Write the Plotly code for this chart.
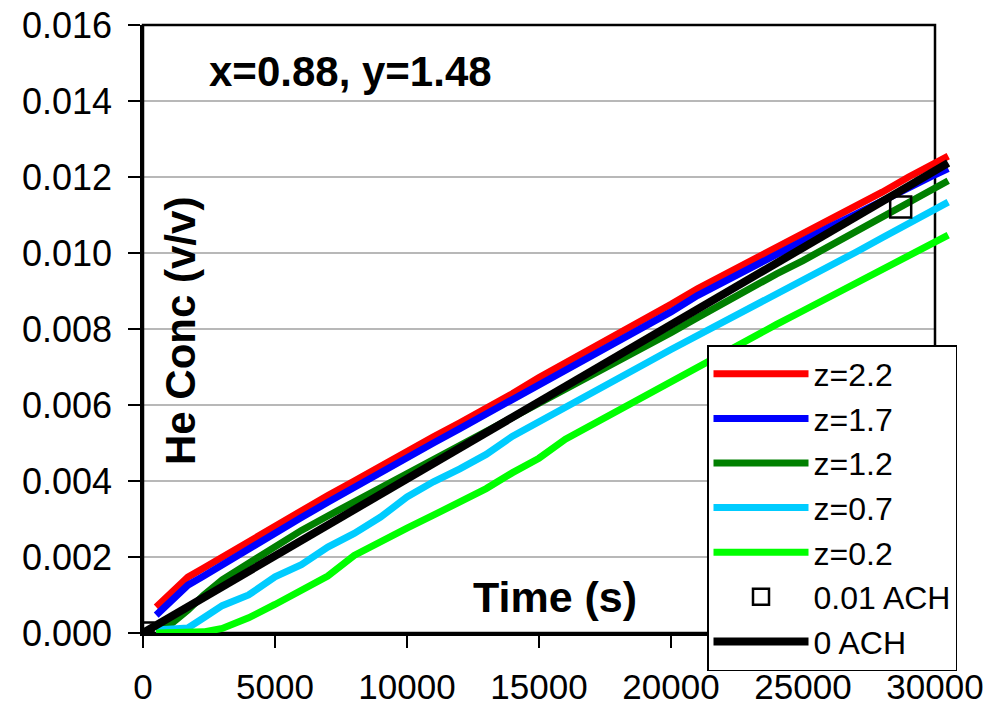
import plotly.graph_objects as go

# ---- data ----
time_s = [500, 1000, 1700, 2300, 3000, 4000, 5000, 6000, 7000, 8000, 9000, 10000,
          11000, 12000, 13000, 14000, 15000, 16000, 17000, 18000, 19000, 20000,
          21000, 22000, 23000, 24000, 25000, 26000, 27000, 28000, 29000, 30000, 30500]

z22 = [0.00068, 0.00100, 0.00147, 0.00171, 0.00200, 0.00240, 0.00282, 0.00322, 0.00362, 0.00400,
       0.00440, 0.00480, 0.00516, 0.00553, 0.00590, 0.00630, 0.00672, 0.00710, 0.00750, 0.00788,
       0.00826, 0.00865, 0.00906, 0.00942, 0.00980, 0.01015, 0.01050, 0.01088, 0.01122, 0.01160,
       0.01200, 0.01237, 0.01255]
z17 = [0.00047, 0.00080, 0.00126, 0.00150, 0.00180, 0.00222, 0.00264, 0.00304, 0.00344, 0.00384,
       0.00424, 0.00462, 0.00500, 0.00538, 0.00576, 0.00614, 0.00652, 0.00692, 0.00730, 0.00768,
       0.00806, 0.00845, 0.00888, 0.00925, 0.00962, 0.00998, 0.01032, 0.01068, 0.01102, 0.01138,
       0.01172, 0.01206, 0.01222]
z12 = [0.00010, 0.00020, 0.00060, 0.00100, 0.00140, 0.00185, 0.00228, 0.00270, 0.00308, 0.00345,
       0.00380, 0.00415, 0.00452, 0.00490, 0.00528, 0.00565, 0.00602, 0.00638, 0.00675, 0.00712,
       0.00750, 0.00790, 0.00830, 0.00870, 0.00906, 0.00945, 0.00980, 0.01018, 0.01055, 0.01090,
       0.01128, 0.01168, 0.01190]
z07 = [0.00008, 0.00010, 0.00013, 0.00040, 0.00072, 0.00100, 0.00148, 0.00180, 0.00226, 0.00262,
       0.00305, 0.00358, 0.00398, 0.00432, 0.00470, 0.00518, 0.00555, 0.00593, 0.00632, 0.00670,
       0.00708, 0.00746, 0.00782, 0.00818, 0.00855, 0.00892, 0.00928, 0.00965, 0.01002, 0.01040,
       0.01076, 0.01113, 0.01134]
z02 = [0.00000, 0.00000, 0.00000, 0.00003, 0.00012, 0.00040, 0.00075, 0.00110, 0.00150, 0.00204,
       0.00242, 0.00276, 0.00310, 0.00345, 0.00380, 0.00422, 0.00460, 0.00510, 0.00548, 0.00585,
       0.00622, 0.00660, 0.00700, 0.00740, 0.00776, 0.00812, 0.00848, 0.00884, 0.00920, 0.00955,
       0.00992, 0.01027, 0.01047]

ach0_time = [0, 5000, 10000, 15000, 20000, 25000, 30000, 30500]
ach0_conc = [0.0, 0.00203, 0.00405, 0.00608, 0.00810, 0.01013, 0.01216, 0.01237]

ach001_time = [0, 28700]
ach001_conc = [0.0, 0.01121]

x_ticks = [0, 5000, 10000, 15000, 20000, 25000, 30000]
y_ticks = [0.000, 0.002, 0.004, 0.006, 0.008, 0.010, 0.012, 0.014, 0.016]

series = [("z=2.2", z22, "#FF0000"), ("z=1.7", z17, "#0000FF"), ("z=1.2", z12, "#008000"),
          ("z=0.7", z07, "#00CCFF"), ("z=0.2", z02, "#00FF00")]

FONT = "Liberation Sans, Arial, sans-serif"

# ---- layout geometry ----
W, H = 1001, 705
ML, MR, MT, MB = 143, 51, 25, 72
plot_w = W - ML - MR
plot_h = H - MT - MB
frame_w = 935 - ML
dom = frame_w / plot_w
x_max = 30000
x2_max = x_max / dom

fig = go.Figure()
# empty trace so that the framed x/y subplot is created
fig.add_trace(go.Scatter(x=[None], y=[None], mode="lines", showlegend=False,
                         hoverinfo="skip", xaxis="x", yaxis="y"))
for name, vals, col in series:
    fig.add_trace(go.Scatter(x=time_s, y=vals, mode="lines", name=name,
                             line=dict(color=col, width=7), xaxis="x2", yaxis="y"))
fig.add_trace(go.Scatter(x=ach001_time, y=ach001_conc, mode="markers", name="0.01 ACH",
                         marker=dict(symbol="square-open", size=21, color="black",
                                     line=dict(width=2.5, color="black")),
                         xaxis="x2", yaxis="y"))
fig.add_trace(go.Scatter(x=ach0_time, y=ach0_conc, mode="lines", name="0 ACH",
                         line=dict(color="black", width=8), xaxis="x2", yaxis="y"))

shapes = []
for yv in y_ticks[1:-1]:
    shapes.append(dict(type="line", xref="x domain", yref="y", x0=0, x1=1, y0=yv, y1=yv,
                       line=dict(color="#A0A0A0", width=1.5), layer="below"))
shapes.append(dict(type="rect", xref="x domain", yref="y domain", x0=0, x1=1, y0=0, y1=1,
                   line=dict(color="black", width=2.5), layer="below"))

fig.update_layout(
    width=W, height=H,
    margin=dict(l=ML, r=MR, t=MT, b=MB, autoexpand=False),
    paper_bgcolor="white", plot_bgcolor="rgba(0,0,0,0)",
    font=dict(family=FONT, size=34, color="black"),
    showlegend=True,
    legend=dict(x=(707 - ML) / plot_w, y=(H - MB - 345) / plot_h,
                xanchor="left", yanchor="top", xref="paper", yref="paper",
                bgcolor="white", bordercolor="black", borderwidth=1.5,
                font=dict(family=FONT, size=32, color="black"),
                itemwidth=95, tracegroupgap=0),
    xaxis=dict(domain=[0, dom], range=[0, x_max], tickvals=x_ticks,
               ticktext=[str(v) for v in x_ticks], showgrid=False, zeroline=False,
               showline=True, linecolor="black", linewidth=2.5,
               ticks="outside", ticklen=12, tickwidth=1.5, tickcolor="black",
               ticklabelstandoff=9, anchor="y", automargin=False,
               tickfont=dict(family=FONT, size=35, color="black")),
    xaxis2=dict(domain=[0, 1], range=[0, x2_max], visible=False, anchor="y",
                showgrid=False, zeroline=False, automargin=False),
    yaxis=dict(domain=[0, 1], range=[0, 0.016], tickvals=y_ticks,
               ticktext=[f"{v:.3f}" for v in y_ticks], showgrid=False, zeroline=False,
               showline=True, linecolor="black", linewidth=2.5,
               ticks="outside", ticklen=12, tickwidth=1.5, tickcolor="black",
               ticklabelstandoff=9, anchor="x", automargin=False,
               tickfont=dict(family=FONT, size=36, color="black")),
    shapes=shapes,
    annotations=[
        dict(text="<b>x=0.88, y=1.48</b>", xref="paper", yref="paper",
             x=(350 - ML) / plot_w, y=(H - MB - 72) / plot_h,
             showarrow=False, xanchor="center", yanchor="middle",
             font=dict(family=FONT, size=42, color="black")),
        dict(text="<b>Time (s)</b>", xref="paper", yref="paper",
             x=(555 - ML) / plot_w, y=(H - MB - 597) / plot_h,
             showarrow=False, xanchor="center", yanchor="middle",
             font=dict(family=FONT, size=43, color="black")),
        dict(text="<b>He Conc (v/v)</b>", xref="paper", yref="paper",
             x=(180 - ML) / plot_w, y=(H - MB - 331) / plot_h,
             showarrow=False, xanchor="center", yanchor="middle", textangle=-90,
             font=dict(family=FONT, size=42, color="black")),
    ],
)

fig.write_html("out.html")
